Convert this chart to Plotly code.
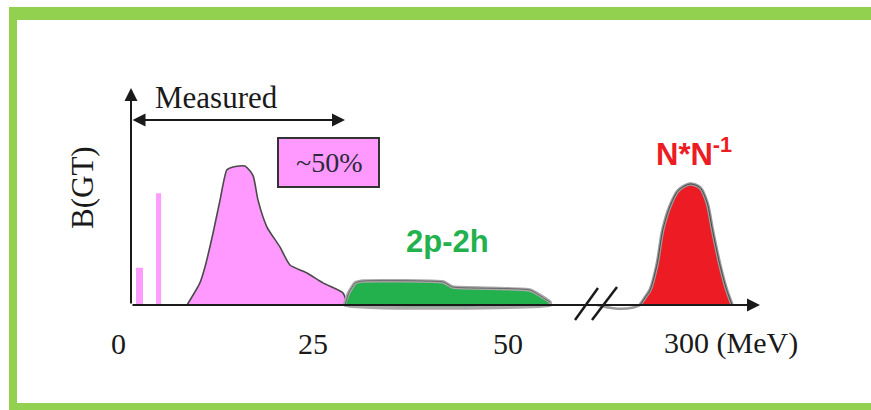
import plotly.graph_objects as go

# ---------------- data ----------------
# discrete low-lying GT states (MeV, B(GT) arb. units)
bar_energy = [2.76, 5.2]
bar_strength = [0.27, 0.81]
bar_width = [0.9, 0.65]

# GT resonance (pink)
gt_energy = [8.85, 10.5, 11.15, 12.18, 13.08, 13.97, 14.74, 16.28, 17.3, 17.95,
             19.1, 20.77, 22.05, 24.23, 26.28, 28.85, 29.36]
gt_strength = [0.0, 0.16, 0.275, 0.52, 0.76, 0.98, 1.0, 1.007, 0.94, 0.76,
               0.565, 0.42, 0.29, 0.232, 0.16, 0.087, 0.0]

# 2p-2h strength (green)
tp_energy = [29.1, 29.6, 30.4, 31.4, 41.7, 42.9, 52.8, 55.4, 55.4, 29.1]
tp_strength = [0.0, 0.09, 0.16, 0.174, 0.167, 0.13, 0.109, 0.02, 0.0, 0.0]

# Delta-hole (N*N^-1) peak (red), around 300 MeV
dl_energy = [293.6, 294.2, 294.9, 295.8, 296.5, 297.4, 298.5, 300.0, 301.3,
             302.2, 302.9, 303.8, 304.7, 305.4]
dl_strength = [0.0, 0.05, 0.11, 0.30, 0.54, 0.71, 0.83, 0.877, 0.85,
               0.74, 0.54, 0.30, 0.11, 0.0]
# gray tail between axis break and the peak
tail_energy = [288.1, 290.4, 292.6, 293.6]
tail_strength = [0.0, -0.025, -0.02, 0.0]

tick_vals = [0, 25, 50, 300]
tick_text = ["0", "25", "50", "300 (MeV)"]

# ---------------- axis break mapping ----------------
BREAK_SHIFT = 300 - 73.33


def disp(e):
    return e if e < 100 else e - BREAK_SHIFT


W, H = 871, 410
X0_PX, PX_PER_MEV = 118, 7.8
BASE_PX, PX_PER_B = 305, 138
x_range = [-X0_PX / PX_PER_MEV, (W - X0_PX) / PX_PER_MEV]
y_range = [(BASE_PX - H) / PX_PER_B, BASE_PX / PX_PER_B]


def ex(px):
    return (px - X0_PX) / PX_PER_MEV


def by(py):
    return (BASE_PX - py) / PX_PER_B


fig = go.Figure()

# discrete bars
fig.add_trace(go.Bar(x=bar_energy, y=bar_strength, width=bar_width,
                     marker=dict(color="#ff9cff", line=dict(width=0)),
                     hoverinfo="skip"))

# GT resonance
fig.add_trace(go.Scatter(x=gt_energy, y=gt_strength, mode="lines", fill="toself",
                         fillcolor="#ff99ff", line=dict(color="#4a4a4a", width=1.6, shape="spline", smoothing=0.6),
                         hoverinfo="skip"))

# 2p-2h
fig.add_trace(go.Scatter(x=tp_energy, y=tp_strength, mode="lines", fill="toself",
                         fillcolor="#22b14c", line=dict(color="#a8a8a8", width=3.5, shape="spline", smoothing=0.4),
                         hoverinfo="skip"))
fig.add_trace(go.Scatter(x=tp_energy[:-2], y=tp_strength[:-2], mode="lines",
                         line=dict(color="#666666", width=1, shape="spline", smoothing=0.4),
                         hoverinfo="skip"))

# axes lines (drawn before the red peak so tail overlaps)
ax_x0 = ex(131)
ax_x1 = ex(760)
fig.add_annotation(x=ax_x1, y=0, ax=ax_x0, ay=0, axref="x", ayref="y", xref="x", yref="y",
                   text="", showarrow=True, arrowhead=2, arrowsize=1.3, arrowwidth=2, arrowcolor="#1a1a1a")
fig.add_annotation(x=ax_x0, y=by(88), ax=ax_x0, ay=0, axref="x", ayref="y", xref="x", yref="y",
                   text="", showarrow=True, arrowhead=2, arrowsize=1.3, arrowwidth=2, arrowcolor="#1a1a1a")

# red peak
dlx = [disp(e) for e in dl_energy]
fig.add_trace(go.Scatter(x=dlx, y=dl_strength, mode="lines", fill="toself",
                         fillcolor="#ed1c24", line=dict(color="#9a9a9a", width=3.5, shape="spline", smoothing=0.8),
                         hoverinfo="skip"))
fig.add_trace(go.Scatter(x=dlx, y=dl_strength, mode="lines",
                         line=dict(color="#4a4a4a", width=1, shape="spline", smoothing=0.8),
                         hoverinfo="skip"))
fig.add_trace(go.Scatter(x=[disp(e) for e in tail_energy], y=tail_strength, mode="lines",
                         line=dict(color="#9a9a9a", width=2.5, shape="spline"),
                         hoverinfo="skip"))

# axis break slashes
for (xa, ya, xb, yb) in [(575, 320, 598, 288), (592, 320, 617, 287)]:
    fig.add_shape(type="line", x0=ex(xa), y0=by(ya), x1=ex(xb), y1=by(yb),
                  xref="x", yref="y", line=dict(color="#1a1a1a", width=2.5))

# "Measured" double arrow
fig.add_annotation(x=ex(345), y=by(120), ax=ex(131), ay=by(120), axref="x", ayref="y",
                   xref="x", yref="y", text="", showarrow=True, arrowhead=2, startarrowhead=2,
                   arrowside="end+start", arrowsize=1.3, startarrowsize=1.3, arrowwidth=2, arrowcolor="#1a1a1a")
fig.add_annotation(x=ex(216), y=by(97), xref="x", yref="y", text="Measured", showarrow=False,
                   font=dict(family="Liberation Serif", size=31, color="#1a1a1a"))

# ~50% box
fig.add_shape(type="rect", x0=ex(278), x1=ex(379), y0=by(187), y1=by(138), xref="x", yref="y",
              fillcolor="#ff99ff", line=dict(color="#333333", width=2))
fig.add_annotation(x=ex(328.5), y=by(162), xref="x", yref="y", text="~50%", showarrow=False,
                   font=dict(family="Liberation Serif", size=28, color="#2a2a3a"))

# labels
fig.add_annotation(x=ex(447), y=by(241), xref="x", yref="y", text="<b>2p-2h</b>", showarrow=False,
                   font=dict(family="Liberation Sans", size=31, color="#22b14c"))
fig.add_annotation(x=disp(300.5), y=by(152), xref="x", yref="y", text="<b>N*N<sup>-1</sup></b>", showarrow=False,
                   font=dict(family="Liberation Sans", size=31, color="#ed1c24"))
fig.add_annotation(x=ex(82), y=by(188), xref="x", yref="y", text="B(GT)", showarrow=False, textangle=-90,
                   font=dict(family="Liberation Serif", size=31, color="#1a1a1a"))

# tick labels
for v, t in zip(tick_vals, tick_text):
    if v < 100:
        fig.add_annotation(x=disp(v), y=by(343), xref="x", yref="y", text=t, showarrow=False,
                           font=dict(family="Liberation Serif", size=30, color="#1a1a1a"))
    else:
        fig.add_annotation(x=disp(v), y=by(343), xref="x", yref="y", text=t, showarrow=False,
                           xanchor="left", xshift=-28,
                           font=dict(family="Liberation Serif", size=30, color="#1a1a1a"))

# green frame
G = "#92d050"
for (x0, y0, x1, y1) in [(9, 7, 871, 20), (9, 7, 17, 410), (9, 403, 871, 410)]:
    fig.add_shape(type="rect", xref="paper", yref="paper", x0=x0 / W, x1=x1 / W,
                  y0=1 - y1 / H, y1=1 - y0 / H, fillcolor=G, line=dict(width=0), layer="above")

fig.update_layout(width=W, height=H, margin=dict(l=0, r=0, t=0, b=0),
                  paper_bgcolor="white", plot_bgcolor="white", showlegend=False,
                  xaxis=dict(range=x_range, visible=False, fixedrange=True),
                  yaxis=dict(range=y_range, visible=False, fixedrange=True),
                  barmode="overlay")

fig.write_html("out.html", config={"displayModeBar": False},
               post_script="document.body.style.margin='0';document.body.style.overflow='hidden';")
